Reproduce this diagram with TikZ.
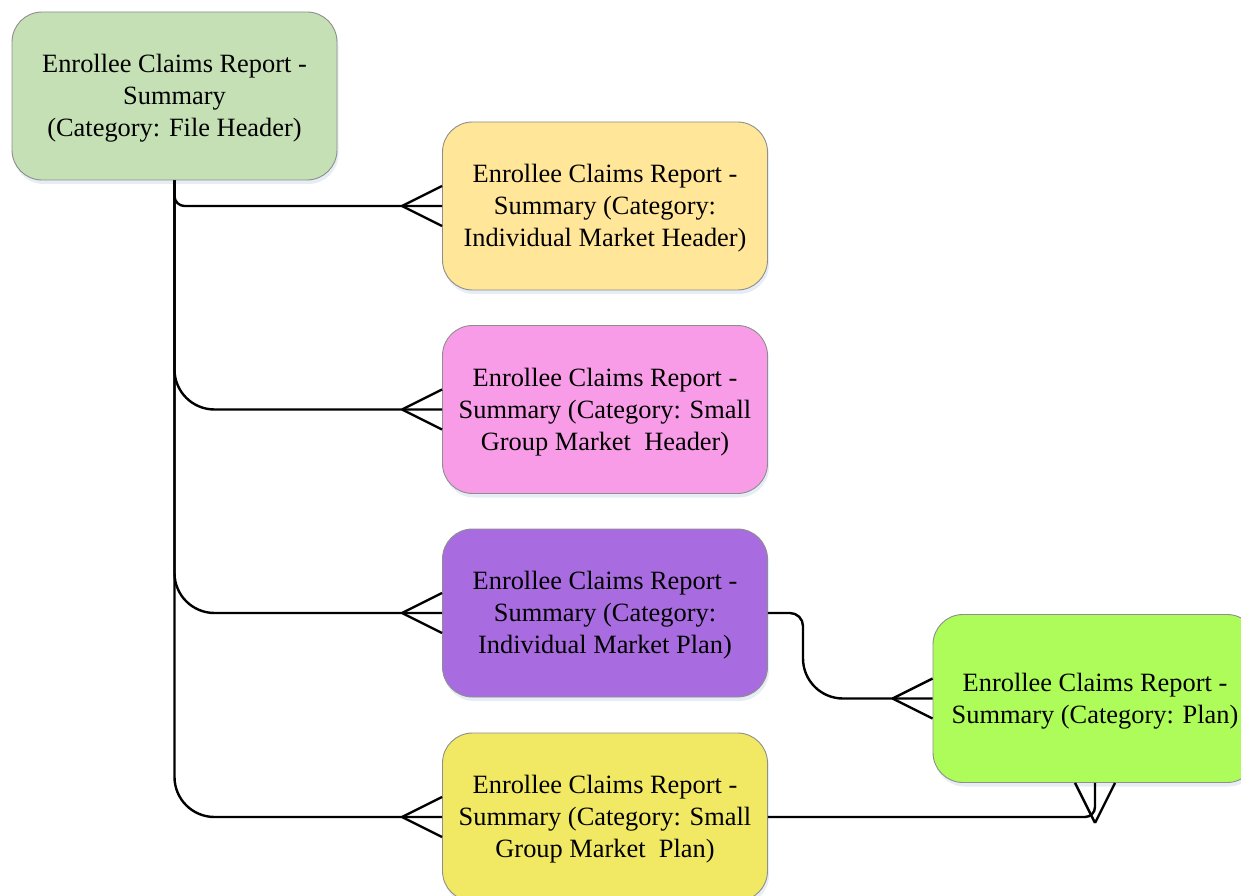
\documentclass[tikz,border=0pt]{standalone}
\usepackage{fontspec}
\setmainfont{Liberation Serif}
\usetikzlibrary{calc,shadows}

\definecolor{cGreen}{HTML}{C5E0B4}
\definecolor{cOrange}{HTML}{FFE699}
\definecolor{cPink}{HTML}{F99CE8}
\definecolor{cPurple}{HTML}{A96CE0}
\definecolor{cYellow}{HTML}{F1E964}
\definecolor{cLime}{HTML}{ADFC5A}
\definecolor{cBorder}{HTML}{8E8E8E}
\definecolor{cShadow}{HTML}{AFC3DA}

\tikzset{
  entity/.style={draw=cBorder, line width=0.9pt, rounded corners=30pt,
    minimum width=325pt, minimum height=168pt,
    drop shadow={shadow xshift=1.5pt, shadow yshift=-4pt, opacity=0.3, fill=cShadow}},
  etext/.style={align=center, inner sep=0pt, font=\fontsize{26.4pt}{32pt}\selectfont},
  rel/.style={line width=2.4pt, draw=black},
}

% an entity box with its caption set slightly below the centre
\newcommand{\entity}[5][325pt]{%
  \node[entity, fill=#3, minimum width=#1] (#2) at #4 {};
  \node[etext] (#2-text) at ([yshift=-2.5pt]#2.center) {#5};
}

% crow's foot on the left side of a box
\newcommand{\footwest}[1]{%
  \draw[rel] ($(#1.west)+(-40pt,0)$) -- ($(#1.west)+(0,20pt)$);
  \draw[rel] ($(#1.west)+(-40pt,0)$) -- ($(#1.west)+(0,-20pt)$);
}

\begin{document}
\begin{tikzpicture}[x=1pt,y=1pt]
\useasboundingbox (0,0) rectangle (1241,895);
\clip (0,0) rectangle (1241,895);

% entities
\entity{fh}{cGreen}{(174.5,799)}{Enrollee Claims Report -\\Summary\\(Category: File Header)}
\entity{ih}{cOrange}{(605,689)}{Enrollee Claims Report -\\Summary (Category:\\Individual Market Header)}
\entity{sh}{cPink}{(605,485.5)}{Enrollee Claims Report -\\Summary (Category: Small\\Group Market~~Header)}
\entity{ip}{cPurple}{(605,282)}{Enrollee Claims Report -\\Summary (Category:\\Individual Market Plan)}
\entity{sp}{cYellow}{(605,78)}{Enrollee Claims Report -\\Summary (Category: Small\\Group Market~~Plan)}
\entity[324pt]{pl}{cLime}{(1095,196.5)}{Enrollee Claims Report -\\Summary (Category: Plan)}

% relationships from the file header
\draw[rel, rounded corners=10pt] (fh.south) |- (ih.west);
\draw[rel, rounded corners=40pt] (fh.south) |- (sh.west);
\draw[rel, rounded corners=40pt] (fh.south) |- (ip.west);
\draw[rel, rounded corners=40pt] (fh.south) |- (sp.west);
\footwest{ih}
\footwest{sh}
\footwest{ip}
\footwest{sp}

% individual market plan to plan
\coordinate (bend) at (803,240);
\draw[rel, rounded corners=13pt] (ip.east) -| (bend);
\draw[rel, rounded corners=40pt] (bend) |- (pl.west);
\footwest{pl}

% small group market plan to plan
\draw[rel, rounded corners=10pt] (sp.east) -| (pl.south);
\coordinate (apex) at ($(pl.south)+(0,-40pt)$);
\draw[rel] (apex) -- ($(pl.south)+(-20pt,0)$);
\draw[rel] (apex) -- ($(pl.south)+(20pt,0)$);
\end{tikzpicture}
\end{document}
